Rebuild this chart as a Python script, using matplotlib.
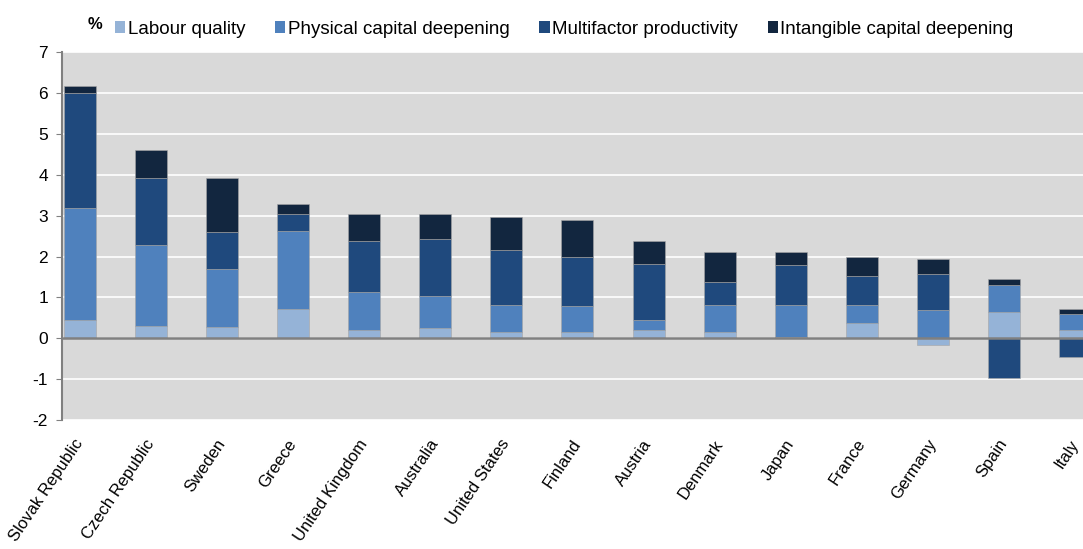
#!/usr/bin/env python3
"""Contributions to labour productivity growth, stacked by source."""

import matplotlib
matplotlib.use("Agg")
import matplotlib.pyplot as plt
import numpy as np
from matplotlib.patches import Patch

plt.rcParams["font.family"] = ["Liberation Sans", "DejaVu Sans"]
plt.rcParams["axes.unicode_minus"] = False

countries = [
    "Slovak Republic", "Czech Republic", "Sweden", "Greece", "United Kingdom",
    "Australia", "United States", "Finland", "Austria", "Denmark", "Japan",
    "France", "Germany", "Spain", "Italy",
]
labour_quality = [0.45, 0.31, 0.27, 0.72, 0.21, 0.24, 0.16, 0.16, 0.21, 0.16, 0.02, 0.38, -0.17, 0.65, 0.20]
physical_capital = [2.74, 1.96, 1.43, 1.91, 0.91, 0.80, 0.66, 0.64, 0.24, 0.66, 0.80, 0.44, 0.68, 0.66, 0.40]
multifactor = [2.80, 1.66, 0.90, 0.41, 1.25, 1.40, 1.34, 1.20, 1.37, 0.56, 0.96, 0.71, 0.88, -0.97, -0.46]
intangible_capital = [0.17, 0.68, 1.32, 0.25, 0.66, 0.59, 0.80, 0.89, 0.55, 0.73, 0.33, 0.47, 0.37, 0.14, 0.11]

series = [
    ("Labour quality", labour_quality, "#95b3d7"),
    ("Physical capital deepening", physical_capital, "#4f81bd"),
    ("Multifactor productivity", multifactor, "#1f497d"),
    ("Intangible capital deepening", intangible_capital, "#12263f"),
]

fig = plt.figure(figsize=(10.83, 5.49), dpi=100)
ax = fig.add_axes([0.0572, 0.235, 0.9428, 0.670])
ax.set_facecolor("#d9d9d9")

x = np.arange(len(countries))
pos_base = np.zeros(len(countries))
neg_base = np.zeros(len(countries))
for label, vals, color in series:
    v = np.array(vals)
    bottom = np.where(v >= 0, pos_base, neg_base)
    ax.bar(x, v, width=0.45, bottom=bottom, color=color, edgecolor="#a6a6a6",
           linewidth=0.4, zorder=3, label=label)
    pos_base = pos_base + np.where(v >= 0, v, 0)
    neg_base = neg_base + np.where(v < 0, v, 0)

ax.set_xlim(-0.25, 14.11)
ax.set_ylim(-2, 7)
ax.set_yticks(range(-2, 8))
ax.yaxis.grid(True, color="white", linewidth=1.2, zorder=0)
ax.axhline(0, color="#808080", linewidth=1.8, zorder=4)

for side in ["top", "right", "bottom"]:
    ax.spines[side].set_visible(False)
ax.spines["left"].set_color("#808080")
ax.spines["left"].set_linewidth(1.5)
ax.tick_params(axis="y", length=4, color="#808080", labelsize=12.5, pad=6)
ax.tick_params(axis="x", length=0, pad=15)
ax.set_xticks(x)
ax.set_xticklabels(countries, rotation=56, ha="right", va="center",
                   rotation_mode="anchor", fontsize=12)

fig.text(0.081, 0.955, "%", fontsize=12, fontweight="bold", ha="left", va="center")

handles = [Patch(facecolor=c, edgecolor="none") for _, _, c in series]
fig.legend(handles, [s[0] for s in series], loc="center", bbox_to_anchor=(0.521, 0.947),
           ncol=4, frameon=False, fontsize=13.5, handlelength=0.55, handleheight=0.55,
           handletextpad=0.12, columnspacing=1.6)

fig.savefig("out.png", dpi=100)
plt.close(fig)
